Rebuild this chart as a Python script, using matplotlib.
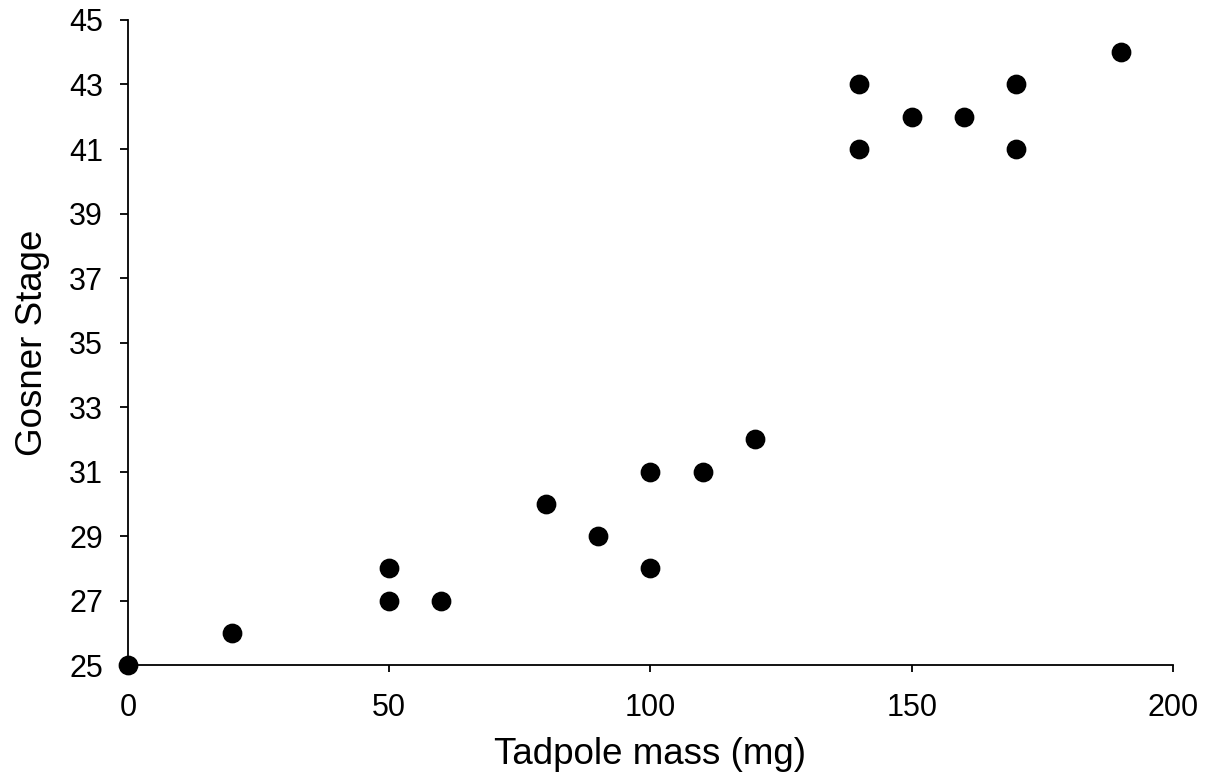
import matplotlib
matplotlib.use('Agg')
import matplotlib.pyplot as plt

# tadpole mass (mg) vs Gosner stage
mass = [0, 20, 50, 50, 60, 80, 90, 100, 100, 110, 120, 140, 140, 150, 160, 170, 170, 190]
stage = [25, 26, 28, 27, 27, 30, 29, 31, 28, 31, 32, 43, 41, 42, 42, 43, 41, 44]
y_ticks = list(range(25, 46, 2))
x_ticks = [0, 50, 100, 150, 200]

plt.rcParams['font.family'] = ['Liberation Sans', 'DejaVu Sans']

fig = plt.figure(figsize=(12.11, 7.78), dpi=100)
ax = fig.add_axes([0.1057, 0.1452, 0.8629, 0.8291])

ax.scatter(mass, stage, s=175, color='black', zorder=3, clip_on=False)

ax.set_xlim(0, 200)
ax.set_ylim(25, 45)
ax.set_xticks(x_ticks)
ax.set_yticks(y_ticks)
ax.spines['top'].set_visible(False)
ax.spines['right'].set_visible(False)
for s in ('left', 'bottom'):
    ax.spines[s].set_linewidth(1.3)
ax.tick_params(axis='both', direction='out', width=1.3, labelsize=22, colors='black')
ax.tick_params(axis='y', length=6, pad=12)
ax.tick_params(axis='x', length=5, pad=15)

ax.set_xlabel('Tadpole mass (mg)', fontsize=26.5, labelpad=10)
ax.set_ylabel('Gosner Stage', fontsize=26.5, labelpad=14)

plt.savefig('out.png', dpi=100)
